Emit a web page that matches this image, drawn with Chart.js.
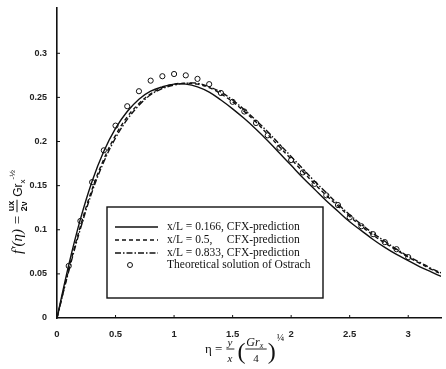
<!DOCTYPE html>
<html>
<head>
<meta charset="utf-8">
<script src="https://cdn.jsdelivr.net/npm/chart.js"></script>
<style>
  html, body { margin: 0; padding: 0; background: #fff; }
  #wrap { width: 446px; height: 369px; position: relative; }
</style>
</head>
<body>
<div id="wrap"><canvas id="chart"></canvas></div>
<script>
// eta values shared by the three CFX curves
const etaLine = [0, 0.1, 0.2, 0.3, 0.4, 0.5, 0.6, 0.7, 0.8, 0.9, 1.0, 1.1, 1.2, 1.3, 1.4, 1.5, 1.6,
    1.7, 1.8, 1.9, 2.0, 2.1, 2.2, 2.3, 2.4, 2.5, 2.6, 2.7, 2.8, 2.9, 3.0, 3.1, 3.2, 3.3];

const cfx0166 = [0, 0.060, 0.112, 0.155, 0.189, 0.215, 0.234, 0.248, 0.257, 0.262, 0.265, 0.265,
    0.262, 0.256, 0.247, 0.237, 0.226, 0.214, 0.201, 0.187, 0.173, 0.159, 0.146, 0.133, 0.121,
    0.109, 0.099, 0.089, 0.080, 0.072, 0.065, 0.058, 0.052, 0.046];
const cfx05 = [0, 0.055, 0.104, 0.146, 0.180, 0.207, 0.228, 0.243, 0.254, 0.261, 0.265, 0.266,
    0.265, 0.261, 0.254, 0.245, 0.234, 0.222, 0.208, 0.194, 0.180, 0.166, 0.152, 0.139, 0.127,
    0.115, 0.104, 0.094, 0.085, 0.077, 0.069, 0.062, 0.055, 0.049];
const cfx0833 = [0, 0.053, 0.101, 0.143, 0.177, 0.204, 0.225, 0.241, 0.253, 0.260, 0.264, 0.266,
    0.266, 0.262, 0.256, 0.247, 0.236, 0.224, 0.211, 0.197, 0.183, 0.169, 0.155, 0.142, 0.129,
    0.117, 0.106, 0.096, 0.087, 0.078, 0.070, 0.063, 0.056, 0.050];

// Ostrach theoretical solution (circles)
const etaOstrach = [0.1, 0.2, 0.3, 0.4, 0.5, 0.6, 0.7, 0.8, 0.9, 1.0, 1.1, 1.2, 1.3, 1.4, 1.5,
    1.6, 1.7, 1.8, 1.9, 2.0, 2.1, 2.2, 2.3, 2.4, 2.5, 2.6, 2.7, 2.8, 2.9, 3.0];
const ostrach = [0.059, 0.110, 0.154, 0.190, 0.218, 0.240, 0.257, 0.269, 0.274, 0.2765, 0.275,
    0.271, 0.265, 0.255, 0.245, 0.234, 0.221, 0.207, 0.193, 0.179, 0.165, 0.152, 0.139, 0.128,
    0.114, 0.104, 0.095, 0.086, 0.078, 0.069];

const xTicks = [0, 0.5, 1, 1.5, 2, 2.5, 3];
const yTicks = [0, 0.05, 0.1, 0.15, 0.2, 0.25, 0.3];

const legendLabels = [
    ['x/L = 0.166,', 'CFX-prediction'],
    ['x/L = 0.5,', 'CFX-prediction'],
    ['x/L = 0.833,', 'CFX-prediction'],
    ['Theoretical solution of Ostrach', '']
];

const toPoints = (xs, ys) => xs.map((x, i) => ({ x: x, y: ys[i] }));

function lineSet(data, dash) {
    return {
        data: data,
        showLine: true,
        borderColor: '#111',
        borderWidth: 1.4,
        borderDash: dash,
        pointRadius: 0,
        tension: 0.4,
        fill: false
    };
}

// titles, legend box and the small inward tick marks
const decorations = {
    id: 'decorations',
    afterDraw(chart) {
        const ctx = chart.ctx;
        const area = chart.chartArea;
        const xs = chart.scales.x;
        const ys = chart.scales.y;
        ctx.save();
        ctx.strokeStyle = '#111';
        ctx.fillStyle = '#111';
        ctx.lineWidth = 1;

        // inward ticks
        xTicks.forEach(v => {
            if (v === 0) return;
            const px = xs.getPixelForValue(v);
            ctx.beginPath();
            ctx.moveTo(px, area.bottom);
            ctx.lineTo(px, area.bottom - 3);
            ctx.stroke();
        });
        yTicks.forEach(v => {
            if (v === 0) return;
            const py = ys.getPixelForValue(v);
            ctx.beginPath();
            ctx.moveTo(area.left, py);
            ctx.lineTo(area.left + 3, py);
            ctx.stroke();
        });

        // legend
        const bx = 107, by = 207, bw = 216, bh = 91;
        ctx.lineWidth = 1.4;
        ctx.fillStyle = '#fff';
        ctx.fillRect(bx, by, bw, bh);
        ctx.strokeRect(bx, by, bw, bh);
        ctx.fillStyle = '#111';
        ctx.font = '11.5px "Liberation Serif"';
        ctx.textBaseline = 'middle';
        const rowY = [227, 240, 253, 265];
        const textX = 167;
        const cfxX = textX + ctx.measureText('x/L = 0.166, ').width;
        chart.data.datasets.forEach((ds, i) => {
            const y = rowY[i];
            if (ds.showLine) {
                ctx.beginPath();
                ctx.lineWidth = 1.3;
                ctx.setLineDash(ds.borderDash || []);
                ctx.moveTo(115, y);
                ctx.lineTo(158, y);
                ctx.stroke();
                ctx.setLineDash([]);
            } else {
                ctx.beginPath();
                ctx.lineWidth = 1;
                ctx.arc(130, y, 2.5, 0, Math.PI * 2);
                ctx.stroke();
            }
            ctx.fillText(legendLabels[i][0], textX, y);
            if (legendLabels[i][1]) ctx.fillText(legendLabels[i][1], cfxX, y);
        });

        // y-axis title, rotated
        ctx.save();
        ctx.translate(17, 186);
        ctx.rotate(-Math.PI / 2);
        ctx.textBaseline = 'alphabetic';
        let cx = -68;
        ctx.font = 'italic 15px "Liberation Serif"';
        ctx.fillText('f\u2032(\u03b7) =', cx, 5);
        cx += ctx.measureText('f\u2032(\u03b7) =').width + 3;
        ctx.font = 'bold 9px "Liberation Sans"';
        const fw = ctx.measureText('ux').width + 2;
        ctx.fillText('ux', cx + 1, -3);
        ctx.fillText('2\u03bd', cx + 1, 10);
        ctx.lineWidth = 1;
        ctx.beginPath();
        ctx.moveTo(cx, 0);
        ctx.lineTo(cx + fw, 0);
        ctx.stroke();
        cx += fw + 3;
        ctx.font = '12px "Liberation Sans"';
        ctx.fillText('Gr', cx, 5);
        cx += ctx.measureText('Gr').width;
        ctx.font = '8px "Liberation Sans"';
        ctx.fillText('x', cx, 8);
        ctx.fillText('-\u00bd', cx + 4, -2);
        ctx.restore();

        // x-axis title
        ctx.textBaseline = 'alphabetic';
        let tx = 205;
        const base = 353;
        ctx.font = '13px "Liberation Serif"';
        ctx.fillText('\u03b7 =', tx, base);
        tx += ctx.measureText('\u03b7 =').width + 4;
        ctx.font = 'italic 11px "Liberation Serif"';
        ctx.fillText('y', tx + 1, base - 7);
        ctx.fillText('x', tx + 1, base + 9);
        ctx.lineWidth = 0.9;
        ctx.beginPath();
        ctx.moveTo(tx, base - 4);
        ctx.lineTo(tx + 8, base - 4);
        ctx.stroke();
        tx += 11;
        ctx.font = '24px "Liberation Serif"';
        ctx.fillText('(', tx, base + 6);
        tx += ctx.measureText('(').width + 1;
        ctx.font = 'italic 12px "Liberation Serif"';
        ctx.fillText('Gr', tx, base - 7);
        const grw = ctx.measureText('Gr').width;
        ctx.font = 'italic 8px "Liberation Serif"';
        ctx.fillText('x', tx + grw, base - 5);
        ctx.font = '11px "Liberation Serif"';
        ctx.fillText('4', tx + 7, base + 9);
        ctx.beginPath();
        ctx.moveTo(tx - 1, base - 4);
        ctx.lineTo(tx + grw + 7, base - 4);
        ctx.stroke();
        tx += grw + 8;
        ctx.font = '24px "Liberation Serif"';
        ctx.fillText(')', tx, base + 6);
        tx += ctx.measureText(')').width + 1;
        ctx.font = '10px "Liberation Serif"';
        ctx.fillText('\u00bc', tx, base - 12);

        ctx.restore();
    }
};

new Chart(document.getElementById('chart').getContext('2d'), {
    type: 'scatter',
    data: {
        datasets: [
            lineSet(toPoints(etaLine, cfx0166), []),
            lineSet(toPoints(etaLine, cfx05), [4, 3]),
            lineSet(toPoints(etaLine, cfx0833), [6, 2, 1.5, 2]),
            {
                data: toPoints(etaOstrach, ostrach),
                showLine: false,
                pointStyle: 'circle',
                pointRadius: 2.6,
                pointBorderWidth: 1,
                pointBorderColor: '#111',
                pointBackgroundColor: 'rgba(255,255,255,0)'
            }
        ]
    },
    options: {
        responsive: true,
        maintainAspectRatio: false,
        animation: false,
        layout: { padding: { top: 6, right: 0, left: 0, bottom: 0 } },
        plugins: {
            legend: { display: false },
            tooltip: { enabled: false }
        },
        scales: {
            x: {
                type: 'linear',
                min: 0,
                max: 3.28,
                afterBuildTicks: (scale) => { scale.ticks = xTicks.map(v => ({ value: v })); },
                afterFit: (scale) => { scale.height = 51; },
                grid: { display: false },
                border: { display: true, color: '#111', width: 1.6 },
                ticks: {
                    color: '#222',
                    padding: 3,
                    maxRotation: 0,
                    font: { family: 'Liberation Sans', size: 9.5, weight: 'bold' },
                    callback: (v) => String(v)
                }
            },
            y: {
                min: 0,
                max: 0.352,
                afterBuildTicks: (scale) => { scale.ticks = yTicks.map(v => ({ value: v })); },
                afterFit: (scale) => { scale.width = 57; },
                grid: { display: false },
                border: { display: true, color: '#111', width: 1.6 },
                ticks: {
                    color: '#222',
                    padding: 2,
                    font: { family: 'Liberation Sans', size: 9, weight: 'bold' },
                    callback: (v) => String(v)
                }
            }
        }
    },
    plugins: [decorations]
});
</script>
</body>
</html>
